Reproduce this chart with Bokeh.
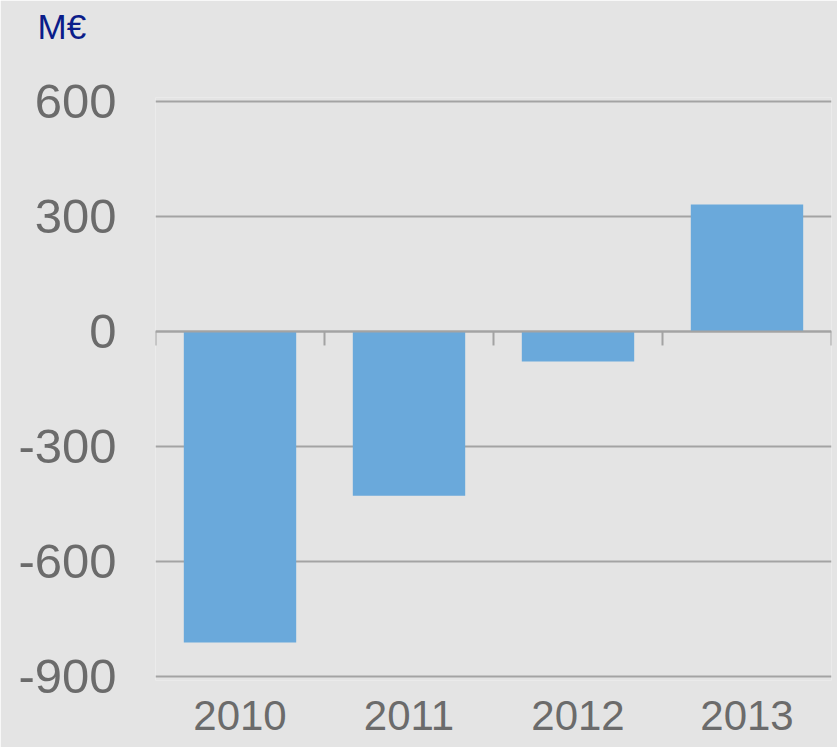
from bokeh.plotting import figure
from bokeh.models import Range1d, FixedTicker, Span, ColumnDataSource, Title
from bokeh.embed import file_html
from bokeh.resources import INLINE

# ---- data ----
years = ["2010", "2011", "2012", "2013"]
values = [-811, -428, -78, 331]
y_ticks = [600, 300, 0, -300, -600, -900]
unit_label = "M€"

BG = "#e4e4e4"
BAR = "#6aa9db"
GRID = "#a3a3a3"
TXT = "#6b6b6b"
NAVY = "#0b1d8a"
FONT = "Liberation Sans"

Y0, Y1 = -910, 610
W, H = 837, 747
LEFT, RIGHT, TOP, BOTTOM = 155, 6, 97, 67
FRAME_H = H - TOP - BOTTOM
px_per_unit = FRAME_H / (Y1 - Y0)

xs = [i + 0.5 for i in range(len(years))]
src = ColumnDataSource(dict(x=xs, top=values, year=years))

p = figure(
    width=W, height=H,
    x_range=Range1d(0, len(years)), y_range=Range1d(Y0, Y1),
    output_backend="svg", toolbar_location=None,
    background_fill_color=BG, border_fill_color=BG,
    min_border_left=LEFT, min_border_right=RIGHT, min_border_top=TOP, min_border_bottom=BOTTOM,
    outline_line_color=None,
)

p.title = Title(text=unit_label, align="left", vertical_align="bottom",
                offset=37 - LEFT, standoff=0,
                padding=dict(left=0, right=0, top=0, bottom=52),
                text_font=FONT, text_font_size="35px", text_font_style="normal",
                text_color=NAVY)

p.vbar(x="x", top="top", bottom=0, width=0.665, source=src, color=BAR, line_color=None)

# grid
p.xgrid.visible = False
p.ygrid.ticker = FixedTicker(ticks=y_ticks)
p.ygrid.grid_line_color = GRID
p.ygrid.grid_line_width = 2

# zero line with category boundary ticks
p.add_layout(Span(location=0, dimension="width", line_color=GRID, line_width=2, level="overlay"))
tick_len = 14 / px_per_unit
bounds = list(range(len(years) + 1))
p.segment(x0=bounds, x1=bounds, y0=[0] * len(bounds), y1=[-tick_len] * len(bounds),
          line_color=GRID, line_width=2)

# y axis
yax = p.yaxis[0]
yax.ticker = FixedTicker(ticks=y_ticks)
yax.major_label_overrides = {t: str(t) for t in y_ticks}
yax.axis_line_color = None
yax.major_tick_line_color = None
yax.minor_tick_line_color = None
yax.major_tick_out = 0
yax.major_tick_in = 0
yax.major_label_standoff = 39
yax.major_label_text_font = FONT
yax.major_label_text_font_size = "49px"
yax.major_label_text_color = TXT

# x axis
xax = p.xaxis[0]
xax.ticker = FixedTicker(ticks=xs)
xax.major_label_overrides = {x: y for x, y in zip(xs, years)}
xax.axis_line_color = None
xax.major_tick_line_color = None
xax.minor_tick_line_color = None
xax.major_tick_out = 0
xax.major_tick_in = 0
xax.major_label_standoff = 20
xax.major_label_text_font = FONT
xax.major_label_text_font_size = "42px"
xax.major_label_text_color = TXT

open("out.html", "w").write(file_html(p, INLINE))
